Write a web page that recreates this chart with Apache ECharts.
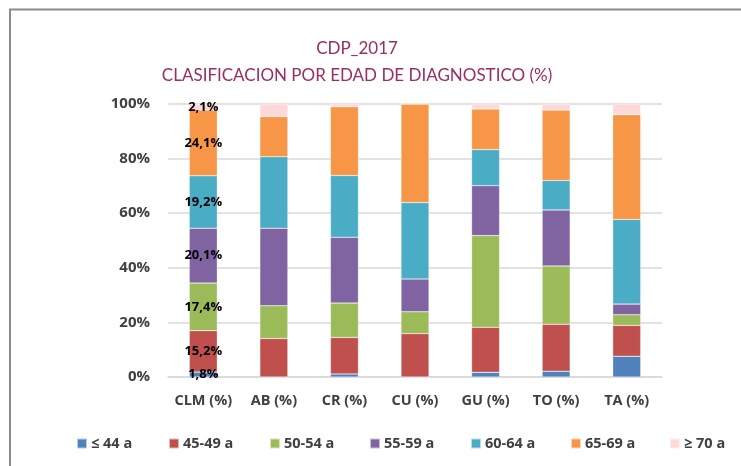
<!DOCTYPE html>
<html>
<head>
<meta charset="utf-8">
<title>CDP_2017</title>
<script src="https://cdn.jsdelivr.net/npm/echarts@6/dist/echarts.min.js"></script>
<style>
  html, body { margin: 0; padding: 0; background: #fff; }
  #chart { width: 741px; height: 466px; }
</style>
</head>
<body>
<div id="chart"></div>
<script>
  // categories and age groups
  const categories = ['CLM (%)', 'AB (%)', 'CR (%)', 'CU (%)', 'GU (%)', 'TO (%)', 'TA (%)'];
  const groups = ['≤ 44 a', '45-49 a', '50-54 a', '55-59 a', '60-64 a', '65-69 a', '≥ 70 a'];
  const colors = ['#4F81BD', '#C0504D', '#9BBB59', '#8064A2', '#4BACC6', '#F79646', '#FFD9DA'];

  // percentages per age group, one value per category
  const upTo44 = [1.8, 0, 1.1, 0, 1.7, 2.1, 7.6];
  const g45_49 = [15.2, 14.1, 13.4, 15.9, 16.5, 17.2, 11.3];
  const g50_54 = [17.4, 12.0, 12.6, 8.0, 33.6, 21.4, 3.9];
  const g55_59 = [20.1, 28.4, 24.1, 12.0, 18.3, 20.5, 3.9];
  const g60_64 = [19.2, 26.2, 22.6, 28.0, 13.2, 10.8, 31.0];
  const g65_69 = [24.1, 14.7, 25.2, 36.1, 14.9, 25.8, 38.4];
  const from70 = [2.1, 4.6, 1.0, 0, 1.8, 2.2, 3.9];

  const yTicks = [0, 20, 40, 60, 80, 100];

  const seriesValues = [upTo44, g45_49, g50_54, g55_59, g60_64, g65_69, from70];
  const legendLeft = [71, 163, 264, 364, 465, 565, 664];

  const titleFont = 'Lato, "Open Sans", sans-serif';
  const font = '"Open Sans", Lato, sans-serif';

  const myChart = echarts.init(document.getElementById('chart'));

  const getOption = () => {
    return {
      animation: false,
      title: {
        text: 'CDP_2017\nCLASIFICACION POR EDAD DE DIAGNOSTICO (%)',
        left: 352,
        top: 30,
        textAlign: 'center',
        textStyle: {
          color: '#9B2D62',
          fontFamily: titleFont,
          fontWeight: 'normal',
          fontSize: 17,
          lineHeight: 27,
        },
      },
      grid: {
        left: 168,
        right: 79,
        top: 104,
        bottom: 89,
      },
      legend: groups.map((name, i) => ({
        data: [name],
        left: legendLeft[i],
        top: 431,
        itemWidth: 10,
        itemHeight: 10,
        itemGap: 4,
        icon: 'rect',
        textStyle: {
          color: '#404040',
          fontFamily: font,
          fontWeight: 'bold',
          fontSize: 14.5,
          padding: [0, 0, 0, -1],
        },
      })),
      xAxis: {
        type: 'category',
        data: categories,
        axisTick: { show: false },
        axisLine: { lineStyle: { color: '#D9D9D9', width: 1.5 } },
        axisLabel: {
          interval: 0,
          color: '#404040',
          fontFamily: font,
          fontWeight: 'bold',
          fontSize: 14.5,
          margin: 16,
        },
      },
      yAxis: {
        type: 'value',
        min: 0,
        max: 100,
        interval: 20,
        axisLine: { show: false },
        axisTick: { show: false },
        axisLabel: {
          color: '#404040',
          fontFamily: font,
          fontWeight: 'bold',
          fontSize: 15,
          margin: 18,
          formatter: (v) => (yTicks.includes(v) ? v + '%' : ''),
        },
        splitLine: { lineStyle: { color: '#D9D9D9', width: 1.5 } },
      },
      series: groups.map((name, i) => ({
        name: name,
        type: 'bar',
        stack: 'total',
        barWidth: 28,
        data: seriesValues[i],
        itemStyle: {
          color: colors[i],
          borderColor: 'rgba(255,255,255,0.6)',
          borderWidth: 0.5,
        },
        label: {
          show: true,
          position: 'inside',
          color: '#000',
          fontFamily: font,
          fontWeight: 'bold',
          fontSize: 13,
          formatter: (p) => (p.dataIndex === 0 ? p.value.toFixed(1).replace('.', ',') + '%' : ''),
        },
      })),
      graphic: [
        {
          type: 'polyline',
          silent: true,
          shape: { points: [[10, 466], [10, 9.5], [741, 9.5]] },
          style: { stroke: '#8C8C8C', lineWidth: 2, fill: null },
        },
      ],
    };
  };

  myChart.setOption(getOption());
</script>
</body>
</html>
